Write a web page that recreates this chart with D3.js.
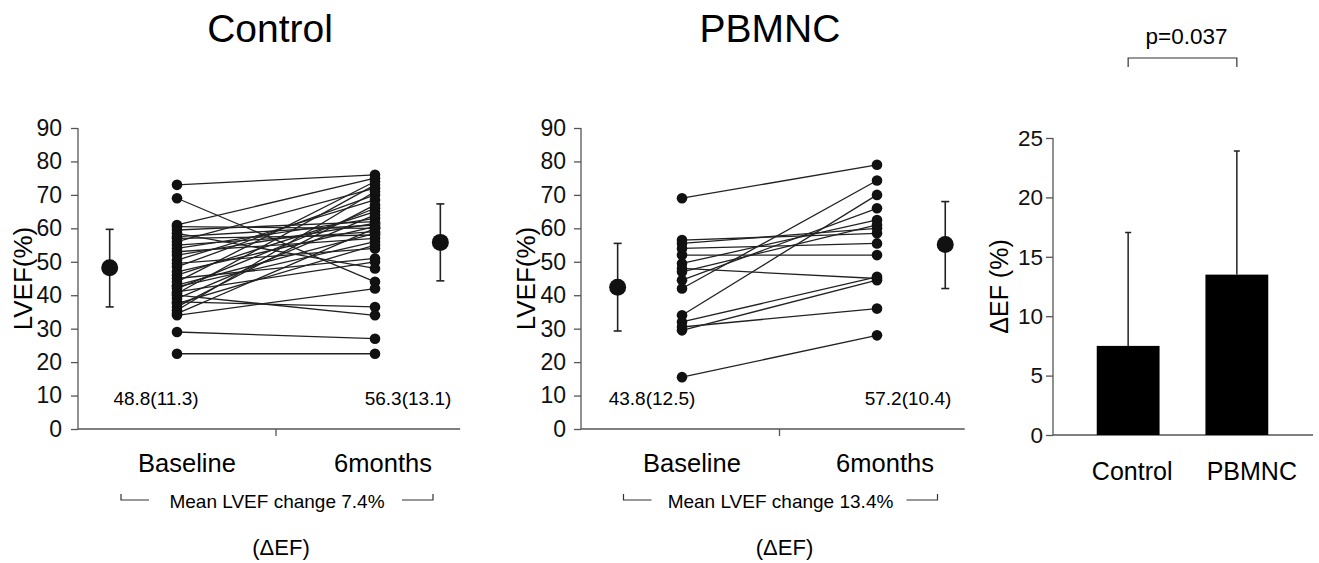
<!DOCTYPE html>
<html>
<head>
<meta charset="utf-8">
<script src="https://cdn.jsdelivr.net/npm/d3@7"></script>
<style>
  body { margin: 0; background: #fff; }
  svg { font-family: "Liberation Sans", Arial, sans-serif; }
</style>
</head>
<body>
<svg id="chart" width="1319" height="563"></svg>
<script>
// --- data ---
var yTicks = [0, 10, 20, 30, 40, 50, 60, 70, 80, 90];

var controlBase = [73, 69, 61, 60.5, 59.5, 58.5, 57.5, 57, 56, 55, 54, 53, 52, 50.5, 49.5, 48.5, 47, 46, 45, 44, 43, 42.5, 42, 41, 40.5, 40, 39, 38, 37.5, 36.5, 35.5, 34.5, 34, 29, 22.5];
var control6m   = [76, 44, 75, 60, 62, 48, 61, 58, 72, 59, 63, 57, 61.5, 68.5, 54, 70, 60.5, 65, 51, 74, 58.5, 56, 66, 50, 73, 34, 64, 36.5, 55, 67, 71, 60, 42, 27, 22.5];

var pbmncBase = [69, 56.5, 55.5, 54, 52, 49.5, 48, 47, 44.5, 42, 34, 32, 30.5, 29.5, 15.5];
var pbmnc6m   = [79, 58.5, 60, 55.5, 52, 62.5, 45, 61, 66, 74.3, 70, 45.5, 36, 44.5, 28];

// plotted mean dots with SD bars [mean, low, high]
var controlMeans = [[48.2, 36.5, 59.7], [55.8, 44.3, 67.3]];
var pbmncMeans   = [[42.4, 29.3, 55.5], [55.2, 42.0, 68.0]];

var controlLabels = ["48.8(11.3)", "56.3(13.1)"];
var pbmncLabels   = ["43.8(12.5)", "57.2(10.4)"];
var timeLabels = ["Baseline", "6months"];

var groups = ["Control", "PBMNC"];
var deltaEF = [7.5, 13.5];
var deltaSD = [17.05, 23.9];
var deltaTicks = [0, 5, 10, 15, 20, 25];

var svg = d3.select("#chart");
var ink = "#111";

function pairedPanel(opt) {
    var y = d3.scaleLinear().domain([0, 90]).range([429, 128]);
    var x = d3.scaleLinear().domain([0, 1]).range([opt.bx, opt.mx]);
    var g = svg.append("g");

    // title
    g.append("text")
        .attr("x", opt.titleX).attr("y", 42)
        .attr("text-anchor", "middle")
        .style("font-size", "39px")
        .text(opt.title);

    // y axis
    var ya = g.append("g")
        .attr("transform", "translate(" + opt.ax + ",0)")
        .call(d3.axisLeft(y).tickValues(yTicks).tickSize(7).tickPadding(opt.pad));
    ya.selectAll("text").style("font-size", "23px").attr("fill", ink);
    ya.selectAll("line, path").attr("stroke", "#555").attr("stroke-width", 1.3);
    ya.select(".domain").attr("d", "M0," + y(90) + "V" + y(0));

    // x axis line with centre tick
    g.append("line")
        .attr("x1", opt.ax).attr("x2", x(opt.axEnd))
        .attr("y1", y(0)).attr("y2", y(0))
        .attr("stroke", "#555").attr("stroke-width", 1.3);
    g.append("line")
        .attr("x1", x(0.5)).attr("x2", x(0.5))
        .attr("y1", y(0)).attr("y2", y(0) + 7)
        .attr("stroke", "#555").attr("stroke-width", 1.3);

    // y label
    g.append("text")
        .attr("transform", "translate(" + (opt.ax - 46) + "," + y(45) + ") rotate(-90)")
        .attr("text-anchor", "middle")
        .style("font-size", "26px")
        .text("LVEF(%)");

    // paired lines
    var pairs = opt.base.map(function(b, i) { return [b, opt.after[i]]; });
    g.selectAll(".pair")
        .data(pairs)
        .enter()
        .append("line")
        .attr("x1", x(0)).attr("x2", x(1))
        .attr("y1", function(d) { return y(d[0]); })
        .attr("y2", function(d) { return y(d[1]); })
        .attr("stroke", "#222").attr("stroke-width", 1.3);

    g.selectAll(".bdot")
        .data(opt.base)
        .enter()
        .append("circle")
        .attr("cx", x(0)).attr("cy", function(d) { return y(d); })
        .attr("r", 5.3).attr("fill", ink);
    g.selectAll(".adot")
        .data(opt.after)
        .enter()
        .append("circle")
        .attr("cx", x(1)).attr("cy", function(d) { return y(d); })
        .attr("r", 5.3).attr("fill", ink);

    // mean +/- SD
    var mg = g.selectAll(".mean")
        .data(opt.means)
        .enter()
        .append("g")
        .attr("transform", function(d, i) { return "translate(" + x(opt.meanPos[i]) + ",0)"; });
    mg.append("line")
        .attr("y1", function(d) { return y(d[1]); })
        .attr("y2", function(d) { return y(d[2]); })
        .attr("stroke", "#222").attr("stroke-width", 1.6);
    mg.append("line").attr("x1", -4).attr("x2", 4)
        .attr("y1", function(d) { return y(d[1]); }).attr("y2", function(d) { return y(d[1]); })
        .attr("stroke", "#222").attr("stroke-width", 1.6);
    mg.append("line").attr("x1", -4).attr("x2", 4)
        .attr("y1", function(d) { return y(d[2]); }).attr("y2", function(d) { return y(d[2]); })
        .attr("stroke", "#222").attr("stroke-width", 1.6);
    mg.append("circle")
        .attr("cy", function(d) { return y(d[0]); })
        .attr("r", 8.5).attr("fill", ink);

    // mean(SD) text
    g.selectAll(".mlab")
        .data(opt.labels)
        .enter()
        .append("text")
        .attr("x", function(d, i) { return opt.labelX[i]; })
        .attr("y", 405)
        .attr("text-anchor", "middle")
        .style("font-size", "19px")
        .text(function(d) { return d; });

    // time labels
    g.selectAll(".tlab")
        .data(timeLabels)
        .enter()
        .append("text")
        .attr("x", function(d, i) { return x(i) + (i === 0 ? 10 : 8); })
        .attr("y", 472)
        .attr("text-anchor", "middle")
        .style("font-size", "25.5px")
        .text(function(d) { return d; });

    // change bracket
    var cx = x(0.5) + 1;
    g.append("text")
        .attr("x", cx).attr("y", 508)
        .attr("text-anchor", "middle")
        .style("font-size", "19px")
        .text(opt.change);
    var half = opt.bracketHalf;
    g.append("path")
        .attr("d", "M" + (cx - half) + ",494V500H" + (cx - half + 28) +
                   "M" + (cx + half - 31) + ",500H" + (cx + half) + "V494")
        .attr("fill", "none").attr("stroke", "#333").attr("stroke-width", 1.2);
    g.append("text")
        .attr("x", cx + 4).attr("y", 555)
        .attr("text-anchor", "middle")
        .style("font-size", "22px")
        .text("(\u0394EF)");
}

pairedPanel({
    title: "Control", titleX: 270, ax: 78, bx: 177, mx: 375, axEnd: 1.43, pad: 9,
    base: controlBase, after: control6m, means: controlMeans, meanPos: [-0.34, 1.33],
    labels: controlLabels, labelX: [156, 408],
    change: "Mean LVEF change 7.4%", bracketHalf: 156
});

pairedPanel({
    title: "PBMNC", titleX: 770, ax: 581, bx: 682, mx: 877, axEnd: 1.45, pad: 8,
    base: pbmncBase, after: pbmnc6m, means: pbmncMeans, meanPos: [-0.33, 1.35],
    labels: pbmncLabels, labelX: [652, 908],
    change: "Mean LVEF change 13.4%", bracketHalf: 157
});

// --- right panel: delta EF bars ---
var yb = d3.scaleLinear().domain([0, 25]).range([435, 138]);
var xb = d3.scaleBand().domain(groups).range([1075, 1290]).paddingInner(0.422).paddingOuter(0.2);
var rg = svg.append("g");

var yba = rg.append("g")
    .attr("transform", "translate(1053,0)")
    .call(d3.axisLeft(yb).tickValues(deltaTicks).tickSize(7).tickPadding(3));
yba.selectAll("text").style("font-size", "22.5px").attr("fill", ink);
yba.selectAll("line, path").attr("stroke", "#555").attr("stroke-width", 1.3);
yba.select(".domain").attr("d", "M0," + yb(25) + "V" + yb(0));

rg.append("line")
    .attr("x1", 1053).attr("x2", 1313)
    .attr("y1", yb(0)).attr("y2", yb(0))
    .attr("stroke", "#555").attr("stroke-width", 1.3);

rg.append("text")
    .attr("transform", "translate(1008," + yb(12.5) + ") rotate(-90)")
    .attr("text-anchor", "middle")
    .style("font-size", "25px")
    .text("\u0394EF (%)");

rg.selectAll(".err")
    .data(groups)
    .enter()
    .append("path")
    .attr("d", function(d, i) {
        var c = xb(d) + xb.bandwidth() / 2;
        return "M" + c + "," + yb(deltaEF[i]) + "V" + yb(deltaSD[i]) +
               "M" + (c - 3) + "," + yb(deltaSD[i]) + "H" + (c + 3);
    })
    .attr("stroke", "#222").attr("stroke-width", 1.5).attr("fill", "none");

rg.selectAll(".bar")
    .data(groups)
    .enter()
    .append("rect")
    .attr("x", function(d) { return xb(d); })
    .attr("y", function(d, i) { return yb(deltaEF[i]); })
    .attr("width", xb.bandwidth())
    .attr("height", function(d, i) { return yb(0) - yb(deltaEF[i]); })
    .attr("fill", "#000");

rg.selectAll(".glab")
    .data(groups)
    .enter()
    .append("text")
    .attr("x", function(d, i) { return xb(d) + xb.bandwidth() / 2 + (i === 0 ? 4 : 15); })
    .attr("y", 480)
    .attr("text-anchor", "middle")
    .style("font-size", "25px")
    .text(function(d) { return d; });

// significance bracket
var c0 = xb(groups[0]) + xb.bandwidth() / 2, c1 = xb(groups[1]) + xb.bandwidth() / 2;
rg.append("path")
    .attr("d", "M" + c0 + ",67V58H" + c1 + "V67")
    .attr("fill", "none").attr("stroke", "#333").attr("stroke-width", 1.2);
rg.append("text")
    .attr("x", (c0 + c1) / 2 + 4).attr("y", 44)
    .attr("text-anchor", "middle")
    .style("font-size", "22.5px")
    .text("p=0.037");
</script>
</body>
</html>
